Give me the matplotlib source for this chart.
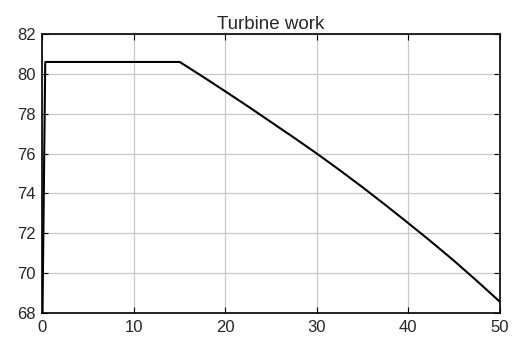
import matplotlib
matplotlib.use("Agg")
import matplotlib.pyplot as plt

# turbine work vs time
t = [0, 0.3, 15, 17.5, 20, 22.5, 25, 27.5, 30, 32.5, 35, 37.5, 40, 42.5, 45, 47.5, 50]
work = [68, 80.6, 80.6, 79.87, 79.12, 78.36, 77.58, 76.80, 76.0, 75.17, 74.31,
        73.42, 72.51, 71.58, 70.62, 69.61, 68.57]

xticks = [0, 10, 20, 30, 40, 50]
yticks = [68, 70, 72, 74, 76, 78, 80, 82]

plt.rcParams['font.family'] = ['Liberation Sans', 'DejaVu Sans']
plt.rcParams['text.color'] = '#262626'
plt.rcParams['xtick.labelcolor'] = '#262626'
plt.rcParams['ytick.labelcolor'] = '#262626'

fig = plt.figure(figsize=(5.15, 3.44), dpi=100)
ax = fig.add_axes([0.0825, 0.09, 0.888, 0.811])

ax.plot(t, work, color='black', lw=1.5)

ax.set_xlim(0, 50)
ax.set_ylim(68, 82)
ax.set_xticks(xticks)
ax.set_yticks(yticks)
ax.grid(True, color='#c8c8c8', lw=0.9)
ax.tick_params(direction='in', top=True, right=True, labelsize=12, length=4, width=0.8, pad=5)
for s in ax.spines.values():
    s.set_linewidth(1.2)
ax.set_title('Turbine work', fontsize=13.5, pad=4)

fig.savefig('out.png', dpi=100)
